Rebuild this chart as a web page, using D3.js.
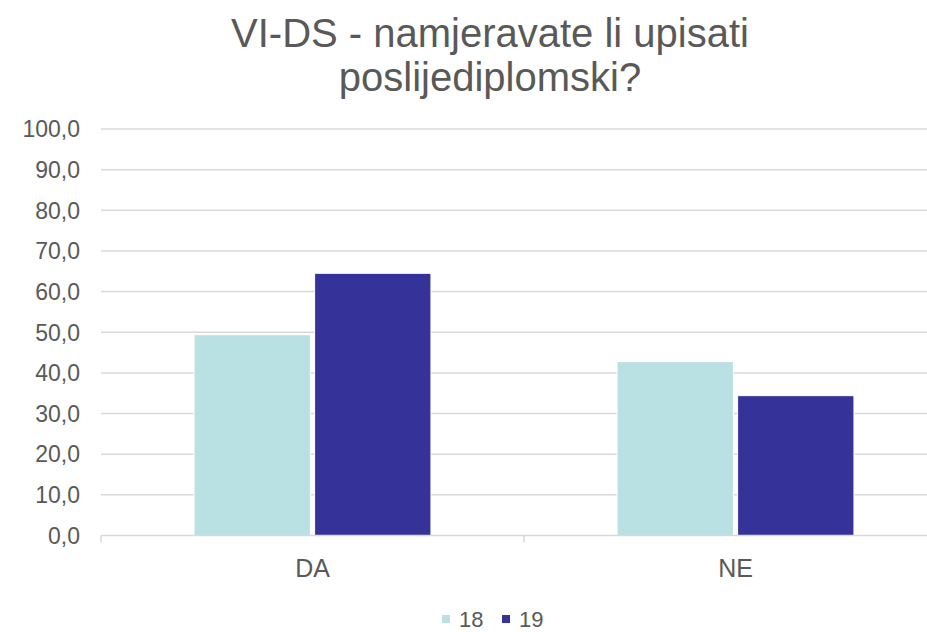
<!DOCTYPE html>
<html>
<head>
<meta charset="utf-8">
<script src="https://cdn.jsdelivr.net/npm/d3@7"></script>
<style>
  body { margin: 0; background: #fff; }
  text { font-family: "Liberation Sans", Arial, sans-serif; fill: #595959; }
</style>
</head>
<body>
<div id="chart"></div>
<script>
// Data
var categories = ["DA", "NE"];
var series = ["18", "19"];
var values18 = [49.4, 42.8];
var values19 = [64.5, 34.4];
var yTicks = [0, 10, 20, 30, 40, 50, 60, 70, 80, 90, 100];
var titleLines = ["VI-DS - namjeravate li upisati", "poslijediplomski?"];

var colors = { "18": "#b9e0e3", "19": "#353399" };

var w = 927;
var h = 632;
var plotLeft = 101;
var plotRight = 947; // plot runs past the picture edge
var plotTop = 129;
var plotBottom = 535.5;

var svg = d3
  .select("#chart")
  .append("svg")
  .attr("width", w)
  .attr("height", h);

// Scales
var x0 = d3.scaleBand().domain(categories).range([plotLeft, plotRight]).padding(0);
var x1 = d3
  .scaleBand()
  .domain(series)
  .range([x0.bandwidth() * 0.22, x0.bandwidth() * 0.78])
  .paddingInner(0.035);
var y = d3.scaleLinear().domain([0, 100]).range([plotBottom, plotTop]);

var locale = d3.formatLocale({ decimal: ",", thousands: ".", grouping: [3], currency: ["", ""] });
var fmt = locale.format(".1f");

// Gridlines
svg
  .append("g")
  .selectAll("line")
  .data(yTicks.filter(function (d) { return d > 0; }))
  .enter()
  .append("line")
  .attr("x1", plotLeft)
  .attr("x2", plotRight)
  .attr("y1", function (d) { return y(d); })
  .attr("y2", function (d) { return y(d); })
  .attr("stroke", "#d9d9d9")
  .attr("stroke-width", 1.5);

// Y labels
svg
  .append("g")
  .selectAll("text")
  .data(yTicks)
  .enter()
  .append("text")
  .attr("x", 80)
  .attr("y", function (d) { return y(d); })
  .attr("dy", "0.36em")
  .attr("text-anchor", "end")
  .style("font-size", "23px")
  .text(function (d) { return fmt(d); });

// Bars
var rows = categories.map(function (c, i) {
  return { cat: c, vals: [{ s: "18", v: values18[i] }, { s: "19", v: values19[i] }] };
});

var groups = svg
  .append("g")
  .selectAll("g")
  .data(rows)
  .enter()
  .append("g")
  .attr("transform", function (d) { return "translate(" + x0(d.cat) + ",0)"; });

groups
  .selectAll("rect")
  .data(function (d) { return d.vals; })
  .enter()
  .append("rect")
  .attr("x", function (d) { return x1(d.s); })
  .attr("y", function (d) { return y(d.v); })
  .attr("width", x1.bandwidth())
  .attr("height", function (d) { return y(0) - y(d.v); })
  .attr("fill", function (d) { return colors[d.s]; })
  .attr("stroke", "#fff")
  .attr("stroke-width", 1);

// X axis line and ticks
var xAxis = svg.append("g");
xAxis
  .append("line")
  .attr("x1", plotLeft)
  .attr("x2", plotRight)
  .attr("y1", y(0))
  .attr("y2", y(0))
  .attr("stroke", "#d9d9d9")
  .attr("stroke-width", 1.5);

xAxis
  .selectAll(".tick")
  .data([plotLeft].concat(categories.map(function (c) { return x0(c) + x0.bandwidth(); })))
  .enter()
  .append("line")
  .attr("x1", function (d) { return d; })
  .attr("x2", function (d) { return d; })
  .attr("y1", y(0))
  .attr("y2", y(0) + 7)
  .attr("stroke", "#d9d9d9")
  .attr("stroke-width", 1.5);

xAxis
  .selectAll("text")
  .data(categories)
  .enter()
  .append("text")
  .attr("x", function (d) { return x0(d) + x0.bandwidth() / 2; })
  .attr("y", 577)
  .attr("text-anchor", "middle")
  .style("font-size", "25px")
  .text(function (d) { return d; });

// Title
svg
  .append("text")
  .attr("text-anchor", "middle")
  .style("font-size", "40px")
  .selectAll("tspan")
  .data(titleLines)
  .enter()
  .append("tspan")
  .attr("x", 490)
  .attr("y", function (d, i) { return 47 + i * 44; })
  .text(function (d) { return d; });

// Legend
var legend = svg
  .append("g")
  .selectAll("g")
  .data(series)
  .enter()
  .append("g")
  .attr("transform", function (d, i) { return "translate(" + (442 + i * 60) + ",0)"; });

legend
  .append("rect")
  .attr("x", 0)
  .attr("y", 615)
  .attr("width", 8)
  .attr("height", 8)
  .attr("fill", function (d) { return colors[d]; });

legend
  .append("text")
  .attr("x", 17)
  .attr("y", 627)
  .style("font-size", "22px")
  .text(function (d) { return d; });
</script>
</body>
</html>
